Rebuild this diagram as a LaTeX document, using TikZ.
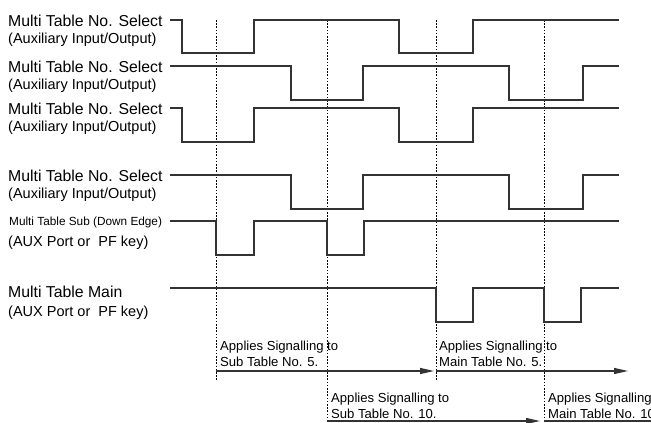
\documentclass[tikz,border=0pt]{standalone}
\usepackage{fontspec}
\setmainfont{Liberation Sans}
\usetikzlibrary{arrows.meta,positioning}

\begin{document}
\begin{tikzpicture}[x=1pt,y=-1pt,
    wave/.style={draw=black!80,line width=1.6pt},
    timeline/.style={draw=black,line width=0.7pt,dash pattern=on 1.6pt off 1.6pt},
    big/.style={inner sep=0pt,anchor=base west,font=\fontsize{15.8}{18}\selectfont},
    mid/.style={inner sep=0pt,anchor=base west,font=\fontsize{14.5}{17}\selectfont},
    small/.style={inner sep=0pt,anchor=base west,font=\fontsize{11.8}{14}\selectfont},
    note/.style={inner sep=0pt,anchor=base west,align=left,font=\fontsize{13.1}{16}\selectfont},
    span/.style={draw=black!80,line width=1.2pt,-{Triangle[length=14pt,width=6pt]}}]

    \useasboundingbox (0,0) rectangle (651,423);

    % time marks
    \foreach \t/\x/\e in {t1/216/380, t2/327/423, t3/436/380, t4/544/423}
    {
        \coordinate (\t) at (\x,20);
        \draw[timeline] (\t) -- (\x,\e);
    }

    % signal labels
    \foreach \n/\y in {1/26, 2/72, 3/114, 4/181}
    {
        \node[big] (sel\n) at (8,\y) {Multi Table No. Select};
        \node[mid] (aux\n) at (8,\y+17.5) {(Auxiliary Input/Output)};
    }
    \node[small] (sub) at (9,225.5) {Multi Table Sub (Down Edge)};
    \node[mid] (subkey) at (8,246) {(AUX Port or \ PF key)};
    \node[big] (main) at (8,297) {Multi Table Main};
    \node[mid] (mainkey) at (8,316) {(AUX Port or \ PF key)};

    % waveforms
    \draw[wave] (170,20) -| (182,53) -| (254,20) -| (399,53) -| (473,20) -- (619,20);
    \draw[wave] (170,66) -| (291,100) -| (363,66) -| (509,100) -| (583,66) -- (619,66);
    \draw[wave] (170,108) -| (182,142) -| (254,108) -| (399,142) -| (473,108) -- (619,108);
    \draw[wave] (170,175) -| (291,209) -| (363,175) -| (509,209) -| (583,175) -- (619,175);
    \draw[wave] (170,221) -| (216,255) -| (254,221) -| (327,255) -| (364,221) -- (619,221);
    \draw[wave] (170,288) -| (436,322) -| (473,288) -| (544,322) -| (581,288) -- (619,288);

    % signalling spans
    \coordinate (e1) at (434,371);
    \coordinate (e2) at (628,371);
    \coordinate (e3) at (540,421);
    \coordinate (e4) at (700,421);
    \draw[span] (t1 |- e1) -- (e1);
    \draw[span] (t3 |- e2) -- (e2);
    \draw[span] (t2 |- e3) -- (e3);
    \draw[span] (t4 |- e4) -- (e4);

    \node[note] (n1) at (220,366) {Applies Signalling to\\Sub Table No. 5.};
    \node[note] (n2) at (439,366) {Applies Signalling to\\Main Table No. 5.};
    \node[note] (n3) at (331,418) {Applies Signalling to\\Sub Table No. 10.};
    \node[note] (n4) at (548,418) {Applies Signalling to\\Main Table No. 10.};

\end{tikzpicture}
\end{document}
